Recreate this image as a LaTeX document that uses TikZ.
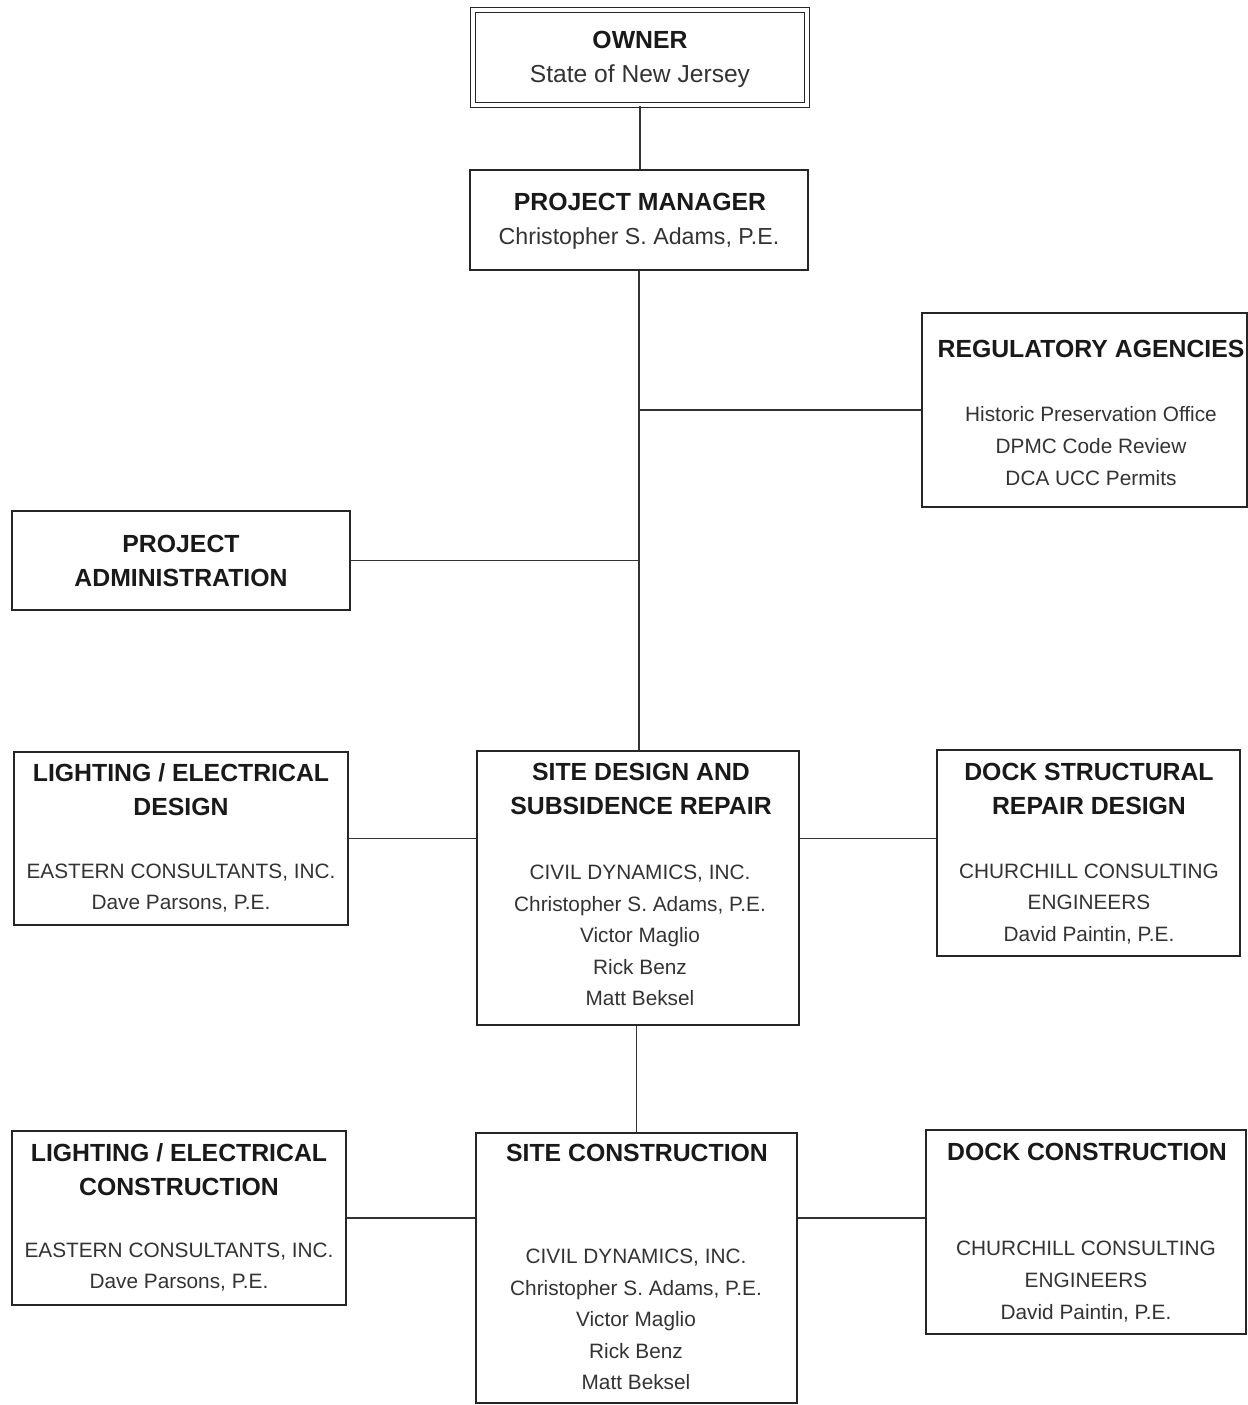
\documentclass[tikz,border=0pt]{standalone}
\usepackage{fontspec}
\setmainfont{Liberation Sans}
\usepackage{tikz}
\usetikzlibrary{positioning}

\begin{document}
\begin{tikzpicture}[
    x=0.5pt, y=-0.5pt,
    box/.style={rectangle, draw=black!85, line width=0.9pt, inner sep=0pt},
    owner box/.style={box, double, double distance=2pt, line width=0.6pt},
    head/.style={font=\fontsize{12.4}{17}\selectfont\bfseries, text=black!90, align=center, inner sep=0pt},
    body/.style={font=\fontsize{10.4}{15.8}\selectfont, text=black!80, align=center, inner sep=0pt},
    link/.style={draw=black!80, line width=0.8pt}
]
\useasboundingbox (0,0) rectangle (1248,1405);

% Owner and project manager
\node[owner box, minimum width=167pt, minimum height=47.5pt] (owner) at (640,57.5) {};
\node[head] (owner_t) at (640,40) {OWNER};
\node[body, font=\fontsize{12.3}{15}\selectfont] (owner_s) at (640,76) {State of New Jersey};

\node[box, minimum width=169pt, minimum height=50pt] (pm) at (639,220) {};
\node[head] (pm_t) at (640,202) {PROJECT MANAGER};
\node[body, font=\fontsize{11.6}{15}\selectfont] (pm_s) at (639,238) {Christopher S. Adams, P.E.};

% Regulatory and administration
\node[box, minimum width=162.5pt, minimum height=97pt] (reg) at (1084.5,410) {};
\node[head] (reg_t) at (1091,349) {REGULATORY AGENCIES};
\node[body] (reg_s) at (1091,446) {Historic Preservation Office\\DPMC Code Review\\DCA UCC Permits};

\node[box, minimum width=169pt, minimum height=49.5pt] (padmin) at (181,560.5) {};
\node[head] (padmin_t) at (181,561) {PROJECT\\ADMINISTRATION};

% Design row
\node[box, minimum width=167pt, minimum height=86.5pt] (ldesign) at (181,838.5) {};
\node[head] (ldesign_t) at (181,790) {LIGHTING / ELECTRICAL\\DESIGN};
\node[body] (ldesign_s) at (181,888) {EASTERN CONSULTANTS, INC.\\Dave Parsons, P.E.};

\node[box, minimum width=161pt, minimum height=137pt] (sdesign) at (638,888) {};
\node[head] (sdesign_t) at (641,789) {SITE DESIGN AND\\SUBSIDENCE REPAIR};
\node[body] (sdesign_s) at (640,935.5) {CIVIL DYNAMICS, INC.\\Christopher S. Adams, P.E.\\Victor Maglio\\Rick Benz\\Matt Beksel};

\node[box, minimum width=151.5pt, minimum height=103pt] (dstruct) at (1088.5,853) {};
\node[head] (dstruct_t) at (1089,789) {DOCK STRUCTURAL\\REPAIR DESIGN};
\node[body] (dstruct_s) at (1089,904) {CHURCHILL CONSULTING\\ENGINEERS\\David Paintin, P.E.};

% Construction row
\node[box, minimum width=167pt, minimum height=87pt] (lconst) at (179,1218) {};
\node[head] (lconst_t) at (179,1169.5) {LIGHTING / ELECTRICAL\\CONSTRUCTION};
\node[body] (lconst_s) at (179,1267) {EASTERN CONSULTANTS, INC.\\Dave Parsons, P.E.};

\node[box, minimum width=160.5pt, minimum height=135pt] (sconst) at (636.5,1268) {};
\node[head] (sconst_t) at (637,1153) {SITE CONSTRUCTION};
\node[body] (sconst_s) at (636,1319.5) {CIVIL DYNAMICS, INC.\\Christopher S. Adams, P.E.\\Victor Maglio\\Rick Benz\\Matt Beksel};

\node[box, minimum width=160pt, minimum height=102pt] (dconst) at (1086,1232) {};
\node[head] (dconst_t) at (1087,1152) {DOCK CONSTRUCTION};
\node[body] (dconst_s) at (1086,1281.5) {CHURCHILL CONSULTING\\ENGINEERS\\David Paintin, P.E.};

% Connections
\draw[link] (owner.south) -- (owner.south |- pm.north);
\draw[link] (pm.south) -- (pm.south |- sdesign.north);
\draw[link] (reg.west -| pm.south) -- (reg.west);
\draw[link] (padmin.east) -- (padmin.east -| pm.south);
\draw[link] (ldesign.east) -- (ldesign.east -| sdesign.west);
\draw[link] (ldesign.east -| sdesign.east) -- (ldesign.east -| dstruct.west);
\draw[link] (sconst.north |- sdesign.south) -- (sconst.north);
\draw[link] (lconst.east) -- (lconst.east -| sconst.west);
\draw[link] (lconst.east -| sconst.east) -- (lconst.east -| dconst.west);

\end{tikzpicture}
\end{document}
